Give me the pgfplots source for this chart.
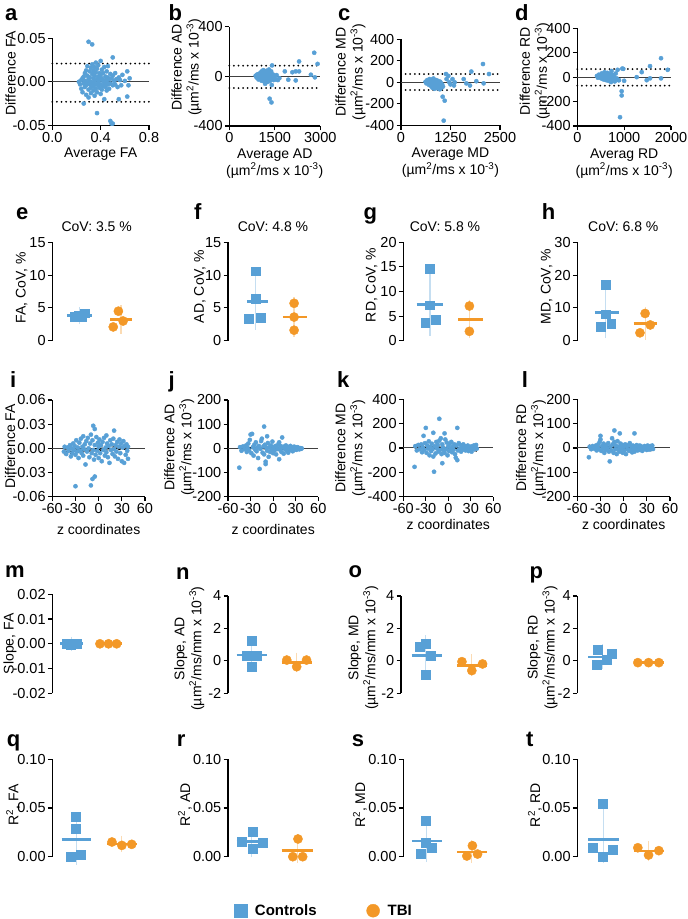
\documentclass[border=0pt]{standalone}
\usepackage{fontspec}
\setmainfont{Liberation Sans}
\usepackage{pgfplots}
\pgfplotsset{compat=1.18}

\definecolor{ctrl}{RGB}{88,160,214}
\definecolor{tbi}{RGB}{243,152,39}
\colorlet{ctrlpale}{ctrl!35!white}
\colorlet{tbipale}{tbi!35!white}

\newcommand{\unit}{(µm\textsuperscript{2}/ms x 10\textsuperscript{-3})}
\newcommand{\unitmm}{(µm\textsuperscript{2}/ms/mm x 10\textsuperscript{-3})}

\pgfplotsset{
  panel/.style={scale only axis, clip=false, anchor=south west, scaled ticks=false,
    axis line style={-, line width=1.1pt}, tick style={black, line width=1.1pt},
    tick align=outside, major tick length=4.5pt,
    ticklabel style={font=\fontsize{14.5}{14.5}\selectfont, inner sep=2pt},
    label style={font=\fontsize{14}{17}\selectfont, align=center},
    title style={font=\fontsize{14}{15}\selectfont}},
  scat/.style={panel, axis x line*=bottom, axis y line*=left},
  dot/.style={panel, axis y line*=left, axis x line=none, xmin=0.42, xmax=2.75, width=100pt},
  ylab/.style={ylabel style={at={(axis description cs:#1)}, anchor=center}},
  cov/.style={title style={at={(axis description cs:#1,1)}, anchor=south, yshift=1pt}},
  zero/.style={black!75, line width=1pt},
  lim/.style={black, line width=2pt, dash pattern=on 0pt off 4.6pt, line cap=round},
  dots/.style={only marks, mark=*, mark size=2.1pt, color=ctrl},
  fit/.style={black, line width=1pt},
  band/.style={black, line width=0.8pt, dashed},
  cpts/.style={only marks, mark=square*, mark size=4.4pt, color=ctrl},
  tpts/.style={only marks, mark=*, mark size=4.6pt, color=tbi},
  cmean/.style={ctrl, line width=2.6pt},
  tmean/.style={tbi, line width=2.6pt},
  ebar/.style={draw=none, mark=none, error bars/.cd, y dir=both, y explicit,
    error bar style={draw=#1, line width=1.2pt},
    error mark options={draw=#1, line width=1.2pt, mark size=6.5pt}},
}

\begin{document}
\begin{tikzpicture}[x=1pt,y=1pt]
\path[use as bounding box] (0,0) rectangle (688,919);

% panel letters
\foreach \l/\x/\y in {a/5/898.3, b/168.3/898.3, c/338/898.3, d/515/898.3,
  e/16/699.7, f/194/699.7, g/363.3/699.7, h/541.7/699.7,
  i/10/531.3, j/168.3/531.3, k/337/531.3, l/521.7/531.3,
  m/5/341.3, n/176/339.5, o/348.3/341.3, p/529.3/340,
  q/6.7/172.3, r/176.7/172.3, s/351.7/172.3, t/526/172.3}
  \node[anchor=base west, inner sep=0, font=\bfseries\fontsize{22}{22}\selectfont] at (\x,\y) {\l};

% ---------- row 1: Bland-Altman ----------
\begin{axis}[scat, at={(52.3pt,793.7pt)}, width=96.7pt, height=87pt,
  xmin=0, xmax=0.8, ymin=-0.05, ymax=0.05,
  xtick={0,0.4,0.8}, xticklabels={0.0,0.4,0.8},
  ytick={-0.05,0,0.05}, yticklabels={-0.05,0.00,0.05},
  xlabel={Average FA}, ylabel={Difference FA}, ylab={-0.43,0.6}]
\addplot[zero] coordinates {(0,0)(0.8,0)};
\addplot[dots] coordinates {
(0.22,0.000)(0.23,-0.003)(0.24,0.002)(0.24,-0.008)(0.25,0.004)(0.25,-0.012)(0.26,-0.025)(0.26,0.006)
(0.26,-0.002)(0.27,0.010)(0.27,-0.006)(0.27,0.001)(0.28,0.013)(0.28,-0.004)(0.28,-0.015)(0.29,0.007)
(0.29,-0.001)(0.29,0.018)(0.30,0.046)(0.30,0.003)(0.30,-0.009)(0.30,-0.018)(0.31,0.012)(0.31,-0.003)
(0.31,0.005)(0.32,0.016)(0.32,-0.007)(0.32,0.000)(0.32,-0.013)(0.33,0.043)(0.33,0.009)(0.33,-0.002)
(0.33,0.020)(0.34,0.004)(0.34,-0.010)(0.34,0.013)(0.34,-0.005)(0.35,0.001)(0.35,0.017)(0.35,-0.016)
(0.35,0.007)(0.36,-0.003)(0.36,0.011)(0.36,-0.008)(0.36,0.022)(0.37,-0.036)(0.37,0.003)(0.37,-0.012)
(0.37,0.015)(0.38,0.006)(0.38,-0.004)(0.38,0.019)(0.38,-0.001)(0.39,0.010)(0.39,-0.007)(0.39,0.002)
(0.40,0.024)(0.40,-0.003)(0.40,0.008)(0.40,-0.014)(0.41,0.004)(0.41,-0.009)(0.41,0.014)(0.42,0.001)
(0.42,-0.005)(0.42,0.010)(0.43,0.017)(0.43,-0.002)(0.43,-0.020)(0.44,0.006)(0.44,-0.006)(0.44,0.002)
(0.45,0.012)(0.45,-0.010)(0.45,0.000)(0.46,0.005)(0.46,-0.003)(0.46,0.018)(0.47,-0.008)(0.47,0.003)
(0.48,0.009)(0.48,-0.045)(0.48,-0.002)(0.49,-0.048)(0.49,0.004)(0.50,0.028)(0.50,-0.048)(0.50,-0.004)
(0.50,0.007)(0.51,0.001)(0.52,0.010)(0.52,-0.003)(0.53,0.003)(0.54,-0.006)(0.55,0.005)(0.55,-0.020)
(0.56,0.002)(0.57,-0.004)(0.58,0.008)(0.60,0.001)(0.62,0.012)(0.62,-0.017)(0.63,-0.004)(0.64,0.004)};
\addplot[lim] coordinates {(0,0.021)(0.8,0.021)};
\addplot[lim] coordinates {(0,-0.023)(0.8,-0.023)};
\end{axis}

\begin{axis}[scat, at={(229.3pt,793pt)}, width=91pt, height=99.3pt,
  xmin=0, xmax=3000, ymin=-400, ymax=400,
  xtick={0,1500,3000}, xticklabels={0,1500,3000},
  ytick={-400,0,400}, yticklabels={-400,0,400},
  xlabel={Average AD\\\unit}, ylabel={Difference AD\\\unit}, ylab={-0.47,0.59}]
\addplot[zero] coordinates {(0,0)(3000,0)};
\addplot[dots] coordinates {
(870,5)(900,-10)(920,15)(950,0)(960,-25)(980,20)(1000,8)(1010,-15)(1030,30)(1040,-5)(1050,12)
(1060,-35)(1070,40)(1080,0)(1090,-20)(1100,18)(1110,-8)(1120,50)(1130,5)(1140,-40)(1150,25)
(1160,-12)(1170,10)(1180,-60)(1190,35)(1200,-3)(1210,15)(1220,-25)(1230,45)(1240,2)(1250,-15)
(1260,20)(1270,-45)(1280,8)(1290,30)(1300,-5)(1310,55)(1320,-20)(1330,-180)(1340,12)(1350,-35)
(1360,25)(1370,-8)(1380,40)(1390,-210)(1400,-70)(1410,88)(1420,-10)(1440,15)(1460,-30)(1480,5)
(1500,-20)(1530,-25)(1560,10)(1600,-30)(1650,-15)(1830,40)(1945,-27)(2080,33)(2190,40)(2190,-33)
(2300,40)(2300,120)(2690,13)(2800,190)(2820,-8)(2910,100)};
\addplot[lim] coordinates {(0,86)(3000,86)};
\addplot[lim] coordinates {(0,-94)(3000,-94)};
\end{axis}

\begin{axis}[scat, at={(401pt,793.7pt)}, width=99pt, height=86pt,
  xmin=0, xmax=2500, ymin=-400, ymax=400,
  xtick={0,1250,2500}, xticklabels={0,1250,2500},
  ytick={-400,-200,0,200,400}, yticklabels={-400,-200,0,200,400},
  xlabel={Average MD\\\unit}, ylabel={Difference MD\\\unit}, ylab={-0.51,0.62}]
\addplot[zero] coordinates {(0,0)(2500,0)};
\addplot[dots] coordinates {
(620,5)(640,-10)(660,20)(680,-5)(700,10)(710,-25)(720,30)(730,0)(740,-15)(750,15)(760,-35)
(770,5)(780,25)(790,-50)(800,-10)(810,10)(820,35)(830,-20)(840,0)(850,-60)(860,15)(870,-30)
(880,5)(890,-45)(900,20)(910,-10)(920,-55)(930,0)(940,-25)(950,10)(960,-40)(970,-15)(980,-65)
(990,5)(1000,-30)(1010,-10)(1020,-50)(1040,-20)(1052,-134)(1060,-40)(1078,-357)(1103,-171)
(1136,77)(1150,30)(1195,60)(1220,0)(1250,-20)(1300,30)(1338,-30)(1355,0)(1583,30)(1650,-10)
(1742,-30)(1776,100)(1902,10)(2070,170)(2087,-10)(2222,77)};
\addplot[lim] coordinates {(0,77)(2500,77)};
\addplot[lim] coordinates {(0,-72)(2500,-72)};
\end{axis}

\begin{axis}[scat, at={(577.3pt,793pt)}, width=93.7pt, height=97.7pt,
  xmin=0, xmax=2000, ymin=-400, ymax=400,
  xtick={0,1000,2000}, xticklabels={0,1000,2000},
  ytick={-400,-200,0,200,400}, yticklabels={-400,-200,0,200,400},
  xlabel={Averag RD\\\unit}, ylabel={Difference RD\\\unit}, ylab={-0.455,0.56}]
\addplot[zero] coordinates {(0,0)(2000,0)};
\addplot[dots] coordinates {
(420,10)(440,-5)(460,20)(480,0)(500,15)(510,-10)(520,30)(530,5)(540,-15)(550,25)(560,0)
(570,-20)(580,40)(590,10)(600,-5)(610,20)(620,-25)(630,5)(640,35)(650,-10)(660,15)(670,-30)
(680,0)(690,25)(700,-15)(710,10)(720,-40)(730,50)(740,-5)(750,20)(760,-20)(780,5)(800,-35)
(820,30)(840,-10)(860,60)(880,-25)(890,-25)(912,-328)(947,-115)(947,-150)(960,70)(982,68)
(1000,-30)(1268,0)(1375,41)(1481,-25)(1552,-10)(1552,90)(1787,155)(1787,-10)(1930,60)};
\addplot[lim] coordinates {(0,66)(2000,66)};
\addplot[lim] coordinates {(0,-70)(2000,-70)};
\end{axis}

% ---------- row 2: CoV ----------
\begin{axis}[dot, at={(52.3pt,578.3pt)}, height=98.4pt, ymin=0, ymax=15,
  ytick={0,5,10,15}, yticklabels={0,5,10,15},
  ylabel={FA, CoV, \%}, ylab={-0.306,0.535}, title={CoV: 3.5 \%}, cov=0.444]
\addplot[ebar=ctrlpale] coordinates {(1.05,3.8) +- (0,0.3)};
\addplot[ebar=tbipale] coordinates {(2.02,3.2) += (0,1.25) -= (0,1.15)};
\addplot[cpts] coordinates {(0.95,3.6)(1.03,3.9)(1.10,3.6)(1.18,4.2)};
\addplot[tpts] coordinates {(1.96,4.5)(1.84,2.1)(2.07,3.0)};
\addplot[cmean] coordinates {(0.76,3.8)(1.34,3.8)};
\addplot[tmean] coordinates {(1.77,3.2)(2.27,3.2)};
\end{axis}

\begin{axis}[dot, at={(228pt,578.3pt)}, height=98.4pt, ymin=0, ymax=15,
  ytick={0,5,10,15}, yticklabels={0,5,10,15},
  ylabel={AD, CoV, \%}, ylab={-0.28,0.55}, title={CoV: 4.8 \%}, cov=0.45]
\addplot[ebar=ctrlpale] coordinates {(1.07,6.0) += (0,3.35) -= (0,3.36)};
\addplot[ebar=tbipale] coordinates {(1.96,3.6) += (0,2.1) -= (0,2.0)};
\addplot[cmean] coordinates {(0.86,6.0)(1.36,6.0)};
\addplot[tmean] coordinates {(1.70,3.6)(2.26,3.6)};
\addplot[cpts] coordinates {(1.07,10.6)(1.07,6.4)(0.91,3.4)(1.18,3.56)};
\addplot[tpts] coordinates {(1.96,5.7)(1.96,3.6)(1.96,1.6)};
\end{axis}

\begin{axis}[dot, at={(403.3pt,578.3pt)}, height=98.4pt, ymin=0, ymax=20,
  ytick={0,5,10,15,20}, yticklabels={0,5,10,15,20},
  ylabel={RD, CoV, \%}, ylab={-0.317,0.566}, title={CoV: 5.8 \%}, cov=0.417]
\addplot[ebar=ctrlpale] coordinates {(1.04,7.4) += (0,5.05) -= (0,5.05)};
\addplot[ebar=tbipale] coordinates {(1.96,4.3) += (0,2.75) -= (0,2.45)};
\addplot[cmean] coordinates {(0.73,7.4)(1.35,7.4)};
\addplot[tmean] coordinates {(1.70,4.3)(2.27,4.3)};
\addplot[cpts] coordinates {(1.04,14.6)(1.04,7.2)(0.93,3.7)(1.18,4.2)};
\addplot[tpts] coordinates {(1.96,7.05)(1.96,1.9)};
\end{axis}

\begin{axis}[dot, at={(577.3pt,578.3pt)}, height=98.4pt, ymin=0, ymax=30,
  ytick={0,10,20,30}, yticklabels={0,10,20,30},
  ylabel={MD, CoV, \%}, ylab={-0.307,0.55}, title={CoV: 6.8 \%}, cov=0.46]
\addplot[ebar=ctrlpale] coordinates {(1.08,8.6) += (0,5.8) -= (0,5.85)};
\addplot[ebar=tbipale] coordinates {(2.0,5.2) += (0,3.1) -= (0,3.0)};
\addplot[cmean] coordinates {(0.83,8.6)(1.38,8.6)};
\addplot[tmean] coordinates {(1.73,5.2)(2.27,5.2)};
\addplot[cpts] coordinates {(1.08,17.1)(1.08,8.1)(0.97,4.3)(1.21,5.1)};
\addplot[tpts] coordinates {(2.0,8.3)(2.12,4.8)(1.88,2.4)};
\end{axis}

% ---------- row 3: difference vs z ----------
\begin{axis}[scat, at={(52.3pt,422.3pt)}, width=92.7pt, height=96.7pt,
  xmin=-60, xmax=60, ymin=-0.06, ymax=0.06,
  xtick={-60,-30,0,30,60}, xticklabels={-60,-30,0,30,60},
  ytick={-0.06,-0.03,0,0.03,0.06}, yticklabels={-0.06,-0.03,0.00,0.03,0.06},
  xlabel={z coordinates}, xlabel style={yshift=-5pt},
  ylabel={Difference FA}, ylab={-0.456,0.52}]
\addplot[dots] coordinates {
(-45,-0.004)(-44,0.002)(-42,-0.007)(-40,0.001)(-39,-0.003)(-37,0.004)(-36,-0.010)(-35,0.000)
(-34,-0.006)(-33,0.006)(-32,-0.002)(-31,0.003)(-30,-0.047)(-30,-0.008)(-29,0.010)(-28,-0.004)
(-27,0.001)(-26,-0.012)(-25,0.007)(-24,-0.003)(-23,0.012)(-22,-0.006)(-21,0.002)(-20,0.015)
(-20,-0.009)(-19,-0.001)(-18,0.005)(-17,-0.020)(-16,0.009)(-15,-0.004)(-14,0.013)(-13,0.000)
(-12,-0.011)(-11,0.006)(-10,-0.046)(-10,0.017)(-9,-0.006)(-8,-0.038)(-8,0.010)(-7,0.028)
(-7,-0.002)(-6,-0.014)(-5,-0.035)(-5,0.024)(-5,0.004)(-4,-0.008)(-3,0.014)(-2,-0.003)
(-1,0.007)(0,-0.012)(0,0.002)(1,0.011)(2,-0.006)(3,0.004)(4,-0.016)(5,0.008)(6,-0.002)
(7,0.013)(8,-0.009)(9,0.001)(10,0.016)(10,-0.005)(11,0.006)(12,-0.011)(13,0.003)(14,-0.018)
(15,0.010)(16,-0.002)(17,0.005)(18,-0.007)(19,0.012)(20,0.022)(20,-0.001)(21,-0.010)(22,0.004)
(23,-0.004)(24,0.008)(25,-0.013)(26,0.002)(27,0.011)(28,-0.006)(29,0.006)(30,-0.016)(31,0.001)
(32,0.009)(33,-0.018)(34,0.003)(35,-0.008)(36,0.005)(37,-0.003)(38,-0.013)(38,0.002)};
\addplot[zero] coordinates {(-60,0)(60,0)};
\addplot[fit] coordinates {(-45,-0.0045)(38,0.0015)};
\addplot[band] coordinates {(-45,-0.0017)(-25,-0.0013)(-4,-0.0004)(15,0.0013)(38,0.0043)};
\addplot[band] coordinates {(-45,-0.0073)(-25,-0.0049)(-4,-0.0028)(15,-0.0019)(38,-0.0013)};
\end{axis}

\begin{axis}[scat, at={(228pt,422.3pt)}, width=90.3pt, height=96.7pt,
  xmin=-60, xmax=60, ymin=-200, ymax=200,
  xtick={-60,-30,0,30,60}, xticklabels={-60,-30,0,30,60},
  ytick={-200,-100,0,100,200}, yticklabels={-200,-100,0,100,200},
  xlabel={z coordinates}, xlabel style={yshift=-5pt},
  ylabel={Difference AD\\\unit}, ylab={-0.54,0.51}]
\addplot[dots] coordinates {
(-45,-80)(-44,5)(-42,-10)(-40,8)(-38,-3)(-36,12)(-35,-15)(-34,2)(-33,20)(-32,-8)(-31,35)
(-30,57)(-29,-20)(-28,60)(-27,5)(-26,-30)(-25,15)(-24,-5)(-23,25)(-22,-12)(-21,3)(-20,-40)
(-19,10)(-18,-85)(-17,-2)(-16,30)(-15,40)(-14,-18)(-13,8)(-12,90)(-12,-25)(-11,15)(-10,-65)
(-10,-55)(-9,3)(-8,50)(-8,-10)(-7,22)(-6,-35)(-5,5)(-4,-15)(-3,12)(-2,-5)(-1,28)(0,-20)(1,4)
(2,-8)(3,10)(4,-25)(5,6)(6,-3)(7,18)(8,25)(8,-45)(9,-5)(10,10)(11,-15)(12,45)(13,2)(14,-22)
(15,8)(16,-4)(17,12)(18,-10)(19,3)(20,-18)(21,6)(22,-2)(23,10)(24,-8)(25,4)(26,-12)(27,2)
(28,7)(29,-5)(30,3)(31,-6)(32,5)(33,-3)(34,2)(35,-4)(36,1)(37,-2)(38,0)};
\addplot[zero] coordinates {(-60,0)(60,0)};
\addplot[fit] coordinates {(-45,4)(38,-3)};
\addplot[band] coordinates {(-45,10)(-25,6)(-4,3.5)(15,2.4)(38,3)};
\addplot[band] coordinates {(-45,-2)(-25,-1.7)(-4,-2.5)(15,-4.6)(38,-9)};
\end{axis}

\begin{axis}[scat, at={(403.3pt,422.3pt)}, width=90pt, height=97.4pt,
  xmin=-60, xmax=60, ymin=-400, ymax=400,
  xtick={-60,-30,0,30,60}, xticklabels={-60,-30,0,30,60},
  ytick={-400,-200,0,200,400}, yticklabels={-400,-200,0,200,400},
  xlabel={z coordinates}, ylabel={Difference MD\\\unit}, ylab={-0.59,0.5}]
\addplot[dots] coordinates {
(-45,-155)(-44,15)(-42,-20)(-40,25)(-38,-10)(-36,30)(-35,-35)(-34,5)(-33,100)(-32,-15)(-31,40)
(-30,165)(-29,-40)(-28,20)(-27,-5)(-26,55)(-25,-60)(-24,10)(-23,-25)(-22,35)(-21,-10)(-20,125)
(-20,-70)(-19,-195)(-18,15)(-17,-45)(-16,50)(-15,-5)(-14,25)(-13,-30)(-12,240)(-12,60)(-11,-15)
(-10,80)(-9,-50)(-8,-125)(-8,30)(-7,5)(-6,-20)(-5,120)(-5,-40)(-4,70)(-3,-10)(-2,45)(-1,-60)
(0,15)(1,-25)(2,35)(3,-5)(4,50)(5,-35)(6,10)(7,-15)(8,30)(9,-50)(10,-80)(11,20)(12,165)(12,-100)
(13,-20)(14,40)(15,-10)(16,25)(17,-30)(18,5)(19,-15)(20,30)(21,-5)(22,15)(23,-20)(24,10)(25,-10)
(26,20)(27,-25)(28,5)(29,-15)(30,10)(31,-30)(32,15)(33,-5)(34,20)(35,-10)(36,5)(37,25)(38,-5)};
\addplot[zero] coordinates {(-60,0)(60,0)};
\addplot[fit] coordinates {(-45,12)(38,-12)};
\addplot[band] coordinates {(-45,26)(-25,14)(-4,6)(15,2)(38,2)};
\addplot[band] coordinates {(-45,-2)(-25,-2)(-4,-6)(15,-12)(38,-26)};
\end{axis}

\begin{axis}[scat, at={(577.3pt,422.3pt)}, width=92.7pt, height=97.4pt,
  xmin=-60, xmax=60, ymin=-200, ymax=200,
  xtick={-60,-30,0,30,60}, xticklabels={-60,-30,0,30,60},
  ytick={-200,-100,0,100,200}, yticklabels={-200,-100,0,100,200},
  xlabel={z coordinates}, ylabel={Difference RD\\\unit}, ylab={-0.5,0.5}]
\addplot[dots] coordinates {
(-45,-38)(-44,5)(-42,-5)(-40,8)(-38,-3)(-36,10)(-35,-10)(-34,3)(-33,15)(-32,-5)(-31,25)(-30,50)
(-30,35)(-29,-12)(-28,8)(-27,-3)(-26,18)(-25,-20)(-24,4)(-23,-8)(-22,12)(-21,-2)(-20,20)(-19,-15)
(-18,-55)(-17,6)(-16,-10)(-15,40)(-14,15)(-13,-20)(-12,72)(-12,25)(-11,-5)(-10,10)(-9,-25)(-8,28)
(-7,-8)(-6,5)(-5,60)(-5,-15)(-4,18)(-3,-3)(-2,12)(-1,-20)(0,5)(1,-10)(2,15)(3,-25)(4,8)(5,-5)
(6,12)(7,-12)(8,20)(9,-8)(10,5)(11,-18)(12,10)(13,-3)(14,60)(14,-15)(15,8)(16,-6)(17,12)(18,-10)
(19,4)(20,-8)(21,10)(22,-4)(23,6)(24,-12)(25,3)(26,-6)(27,8)(28,-3)(29,5)(30,-8)(31,10)(32,-5)
(33,4)(34,-6)(35,8)(36,-2)(37,10)(38,-4)};
\addplot[zero] coordinates {(-60,0)(60,0)};
\addplot[fit] coordinates {(-45,6)(38,-6)};
\addplot[band] coordinates {(-45,12)(-25,7)(-4,3)(15,1)(38,0)};
\addplot[band] coordinates {(-45,0)(-25,-1)(-4,-3)(15,-6)(38,-12)};
\end{axis}

% ---------- row 4: slopes ----------
\begin{axis}[dot, at={(52.3pt,225.7pt)}, height=99pt, ymin=-0.02, ymax=0.02,
  ytick={-0.02,-0.01,0,0.01,0.02}, yticklabels={-0.02,-0.01,0.00,0.01,0.02},
  ylabel={Slope, FA}, ylab={-0.423,0.5}]
\addplot[ebar=ctrlpale] coordinates {(0.87,0.0) +- (0,0.0003)};
\addplot[cpts] coordinates {(0.75,0.0)(0.85,-0.0003)(0.95,0.0002)(1.0,-0.0001)};
\addplot[tpts] coordinates {(1.53,0.0)(1.73,0.0)(1.92,0.0)};
\addplot[cmean] coordinates {(0.6,0.0)(1.14,0.0)};
\addplot[tmean] coordinates {(1.46,0.0)(2.04,0.0)};
\end{axis}

\begin{axis}[dot, at={(228pt,225.7pt)}, height=97.3pt, ymin=-2, ymax=4,
  ytick={-2,0,2,4}, yticklabels={-2,0,2,4},
  ylabel={Slope, AD\\\unitmm}, ylab={-0.388,0.46}]
\addplot[ebar=ctrlpale] coordinates {(0.97,0.37) += (0,0.62) -= (0,0.66)};
\addplot[ebar=tbipale] coordinates {(2.02,-0.1) += (0,0.2) -= (0,0.21)};
\addplot[cmean] coordinates {(0.62,0.37)(1.32,0.37)};
\addplot[tmean] coordinates {(1.67,-0.1)(2.37,-0.1)};
\addplot[cpts] coordinates {(0.97,1.24)(0.86,0.3)(1.09,0.3)(0.97,-0.36)};
\addplot[tpts] coordinates {(1.79,0.05)(2.25,0.05)(2.02,-0.36)};
\end{axis}

\begin{axis}[dot, at={(401pt,225.7pt)}, height=97.3pt, ymin=-2, ymax=4,
  ytick={-2,0,2,4}, yticklabels={-2,0,2,4},
  ylabel={Slope, MD\\\unitmm}, ylab={-0.377,0.47}]
\addplot[ebar=ctrlpale] coordinates {(1.0,0.34) += (0,0.85) -= (0,0.86)};
\addplot[ebar=tbipale] coordinates {(2.07,-0.28) += (0,0.29) -= (0,0.28)};
\addplot[cmean] coordinates {(0.67,0.34)(1.37,0.34)};
\addplot[tmean] coordinates {(1.72,-0.28)(2.42,-0.28)};
\addplot[cpts] coordinates {(1.0,1.04)(0.86,0.88)(1.11,0.3)(1.0,-0.87)};
\addplot[tpts] coordinates {(1.84,-0.05)(2.32,-0.19)(2.07,-0.6)};
\end{axis}

\begin{axis}[dot, at={(577.3pt,225.7pt)}, height=97.3pt, ymin=-2, ymax=4,
  ytick={-2,0,2,4}, yticklabels={-2,0,2,4},
  ylabel={Slope, RD\\\unitmm}, ylab={-0.348,0.47}]
\addplot[ebar=ctrlpale] coordinates {(1.01,0.24) += (0,0.37) -= (0,0.35)};
\addplot[cmean] coordinates {(0.68,0.24)(1.34,0.24)};
\addplot[tmean] coordinates {(1.73,-0.11)(2.43,-0.11)};
\addplot[cpts] coordinates {(0.89,0.71)(1.22,0.43)(1.11,0.05)(0.87,-0.25)};
\addplot[tpts] coordinates {(1.83,-0.11)(2.08,-0.11)(2.32,-0.11)};
\end{axis}

% ---------- row 5: R^2 ----------
\begin{axis}[dot, at={(52.3pt,62.3pt)}, height=97.4pt, ymin=0, ymax=0.1,
  ytick={0,0.05,0.1}, yticklabels={0.00,0.05,0.10},
  ylabel={R\textsuperscript{2}, FA}, ylab={-0.39,0.53}]
\addplot[ebar=ctrlpale] coordinates {(0.98,0.0177) += (0,0.02) -= (0,0.0194)};
\addplot[ebar=tbipale] coordinates {(2.04,0.0131) +- (0,0.0018)};
\addplot[cmean] coordinates {(0.64,0.0177)(1.32,0.0177)};
\addplot[tmean] coordinates {(1.69,0.0131)(2.39,0.0131)};
\addplot[cpts] coordinates {(0.97,0.0408)(0.97,0.0284)(0.85,0.0)(1.08,0.0017)};
\addplot[tpts] coordinates {(1.81,0.0151)(2.04,0.0116)(2.27,0.0127)};
\end{axis}

\begin{axis}[dot, at={(228pt,62.3pt)}, height=97.4pt, ymin=0, ymax=0.1,
  ytick={0,0.05,0.1}, yticklabels={0.00,0.05,0.10},
  ylabel={R\textsuperscript{2}, AD}, ylab={-0.43,0.53}]
\addplot[ebar=ctrlpale] coordinates {(0.97,0.0158) += (0,0.0075) -= (0,0.009)};
\addplot[ebar=tbipale] coordinates {(2.04,0.0061) += (0,0.0103) -= (0,0.006)};
\addplot[cmean] coordinates {(0.62,0.0158)(1.32,0.0158)};
\addplot[tmean] coordinates {(1.67,0.0061)(2.41,0.0061)};
\addplot[cpts] coordinates {(0.99,0.0257)(0.74,0.0154)(1.23,0.0144)(0.99,0.0079)};
\addplot[tpts] coordinates {(2.05,0.0182)(1.93,0.0)(2.16,0.0)};
\end{axis}

\begin{axis}[dot, at={(403.3pt,62.3pt)}, height=97.4pt, ymin=0, ymax=0.1,
  ytick={0,0.05,0.1}, yticklabels={0.00,0.05,0.10},
  ylabel={R\textsuperscript{2}, MD}, ylab={-0.433,0.53}]
\addplot[ebar=ctrlpale] coordinates {(0.965,0.016) += (0,0.014) -= (0,0.015)};
\addplot[ebar=tbipale] coordinates {(2.01,0.0049) += (0,0.0054) -= (0,0.0049)};
\addplot[cmean] coordinates {(0.62,0.016)(1.32,0.016)};
\addplot[tmean] coordinates {(1.67,0.0049)(2.36,0.0049)};
\addplot[cpts] coordinates {(0.95,0.037)(0.95,0.0144)(1.08,0.0092)(0.83,0.0034)};
\addplot[tpts] coordinates {(2.03,0.0113)(2.15,0.0027)(1.9,0.0007)};
\end{axis}

\begin{axis}[dot, at={(577.3pt,62.3pt)}, height=97.4pt, ymin=0, ymax=0.1,
  ytick={0,0.05,0.1}, yticklabels={0.00,0.05,0.10},
  ylabel={R\textsuperscript{2}, RD}, ylab={-0.423,0.53}]
\addplot[ebar=ctrlpale] coordinates {(1.03,0.0177) += (0,0.0243) -= (0,0.0177)};
\addplot[ebar=tbipale] coordinates {(2.08,0.0057) += (0,0.0038) -= (0,0.0037)};
\addplot[cmean] coordinates {(0.68,0.0177)(1.38,0.0177)};
\addplot[tmean] coordinates {(1.73,0.0057)(2.43,0.0057)};
\addplot[cpts] coordinates {(1.01,0.0541)(0.77,0.0092)(1.25,0.0075)(1.01,0.0)};
\addplot[tpts] coordinates {(1.83,0.0092)(2.08,0.0017)(2.32,0.0062)};
\end{axis}

% ---------- shared legend ----------
\begin{axis}[at={(0pt,0pt)}, anchor=south west, scale only axis, hide axis,
  width=688pt, height=16.6pt, xmin=0, xmax=1, ymin=0, ymax=1,
  legend columns=2,
  legend style={at={(axis description cs:0.336,0.5)}, anchor=west, draw=none, fill=none,
    font=\bfseries\fontsize{15}{15}\selectfont,
    /tikz/every odd column/.append style={column sep=6pt},
    /tikz/every even column/.append style={column sep=48pt}}]
\addlegendimage{only marks, mark=square*, mark size=6.3pt, color=ctrl}
\addlegendentry{Controls}
\addlegendimage{only marks, mark=*, mark size=6.5pt, color=tbi}
\addlegendentry{TBI}
\end{axis}
\end{tikzpicture}
\end{document}
